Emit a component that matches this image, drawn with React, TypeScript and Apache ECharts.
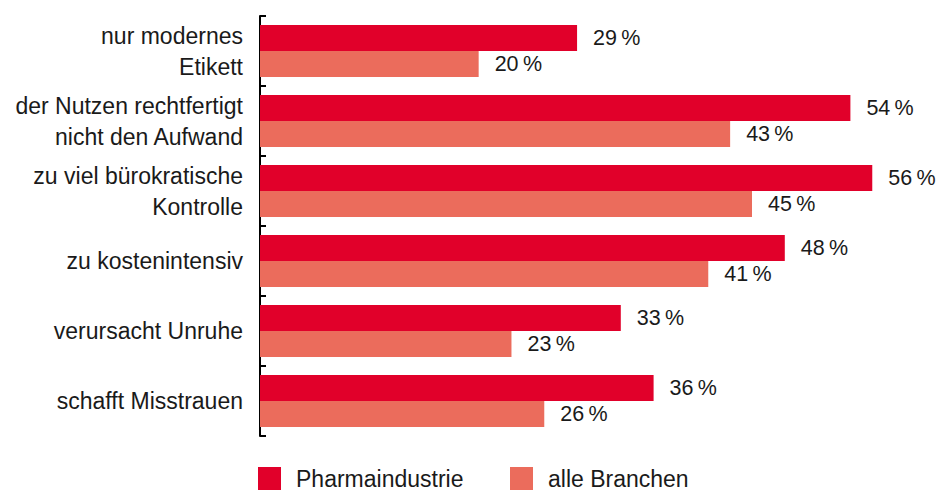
import React, { useEffect, useRef } from "react";
import * as echarts from "echarts";

const categories = [
  "nur modernes\nEtikett",
  "der Nutzen rechtfertigt\nnicht den Aufwand",
  "zu viel bürokratische\nKontrolle",
  "zu kostenintensiv",
  "verursacht Unruhe",
  "schafft Misstrauen",
];
const pharma = [29, 54, 56, 48, 33, 36];
const alle = [20, 43, 45, 41, 23, 26];
const seriesNames = ["Pharmaindustrie", "alle Branchen"];

const FONT = "'Liberation Sans', Arial, Helvetica, sans-serif";
const TEXT = "#1a1a1a";

export default function App() {
  const ref = useRef<HTMLDivElement>(null);
  useEffect(() => {
    if (!ref.current) return;
    const chart = echarts.init(ref.current, null, { renderer: "svg" });
    const label = {
      show: true,
      position: "right" as const,
      distance: 16,
      color: TEXT,
      fontFamily: FONT,
      fontSize: 21.5,
      formatter: (p: any) => `${p.value}\u2009%`,
    };
    const legendBase = {
      top: 467,
      padding: 0,
      itemWidth: 23,
      itemHeight: 23,
      icon: "rect",
      textStyle: {
        color: TEXT,
        fontFamily: FONT,
        fontSize: 23,
        lineHeight: 20,
        padding: [0, 0, 0, 10],
      },
    };
    chart.setOption({
      animation: false,
      backgroundColor: "#ffffff",
      grid: { left: 260, top: 16, height: 420, width: 656, containLabel: false },
      legend: [
        { ...legendBase, left: 258, data: [seriesNames[0]] },
        { ...legendBase, left: 510, data: [seriesNames[1]] },
      ],
      xAxis: {
        type: "value",
        min: 0,
        max: 60,
        show: false,
      },
      yAxis: {
        type: "category",
        inverse: true,
        data: categories,
        axisLine: { show: true, lineStyle: { color: "#000", width: 2 } },
        axisTick: { show: true, inside: true, length: 6, lineStyle: { color: "#000", width: 2 } },
        axisLabel: {
          color: TEXT,
          fontFamily: FONT,
          fontSize: 23,
          lineHeight: 31,
          margin: 17,
          align: "right",
        },
      },
      series: [
        {
          name: seriesNames[0],
          type: "bar",
          data: pharma,
          itemStyle: { color: "#E1002A" },
          barGap: "0%",
          barCategoryGap: "25.7%",
          label,
        },
        {
          name: seriesNames[1],
          type: "bar",
          data: alle,
          itemStyle: { color: "#EB6C5C" },
          barGap: "0%",
          barCategoryGap: "25.7%",
          label,
        },
      ],
    });
    return () => chart.dispose();
  }, []);
  return (
    <div
      ref={ref}
      style={{ position: "fixed", left: 0, top: 0, width: 939, height: 490 }}
    />
  );
}
